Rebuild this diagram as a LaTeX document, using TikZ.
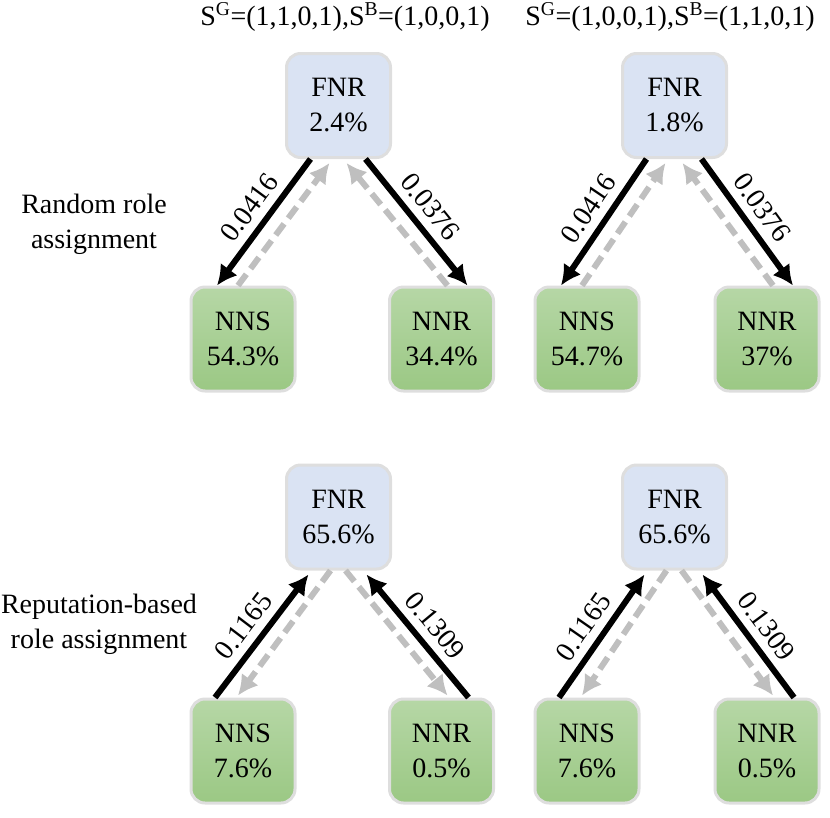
\documentclass[tikz,border=0pt]{standalone}
\usepackage{fontspec}
\setmainfont{LiberationSerif}[Extension=.ttf, UprightFont=*-Regular, BoldFont=*-Bold, ItalicFont=*-Italic, BoldItalicFont=*-BoldItalic]
\usetikzlibrary{arrows.meta}
\definecolor{fnrfill}{RGB}{218,227,243}
\definecolor{gtop}{RGB}{182,215,166}
\definecolor{gbot}{RGB}{155,200,132}
\definecolor{glow}{RGB}{222,222,222}
\definecolor{dashgray}{RGB}{191,191,191}
\begin{document}
\begin{tikzpicture}[x=1pt,y=-1pt,
  box/.style={rounded corners=14pt, minimum width=104pt, minimum height=104pt, inner sep=0pt,
    align=center, font=\fontsize{28}{35}\selectfont, draw=glow, line width=3pt},
  fnrbox/.style={box, fill=fnrfill},
  nbox/.style={box, top color=gtop, bottom color=gbot},
  blk/.style={line width=6pt, -{Latex[length=20pt,width=21pt]}},
  gry/.style={line width=6pt, draw=dashgray, dash pattern=on 14pt off 7pt,
    -{Latex[length=20pt,width=21pt]}},
  lbl/.style={font=\fontsize{28}{30}\selectfont, sloped, pos=0.48, above=8pt, inner sep=0pt},
  txt/.style={font=\fontsize{28}{35}\selectfont, align=center, inner sep=0pt}
]
\useasboundingbox (0,0) rectangle (830,817);

% headers
\node[txt, anchor=base] (hA) at (345,25) {S\textsuperscript{G}=(1,1,0,1),S\textsuperscript{B}=(1,0,0,1)};
\node[txt, anchor=base] (hB) at (670,25) {S\textsuperscript{G}=(1,0,0,1),S\textsuperscript{B}=(1,1,0,1)};

% row labels
\node[txt] (rowA) at (94,224) {Random role\\assignment};
\node[txt] (rowB) at (99,624) {Reputation-based\\role assignment};

% top-left panel
\node[fnrbox] (f1) at (338.5,105.5) {FNR\\2.4\%};
\node[nbox] (s1) at (243,339) {NNS\\54.3\%};
\node[nbox] (r1) at (441.5,339) {NNR\\34.4\%};
% top-right panel
\node[fnrbox] (f2) at (674.5,105.5) {FNR\\1.8\%};
\node[nbox] (s2) at (587,339) {NNS\\54.7\%};
\node[nbox] (r2) at (767,339) {NNR\\37\%};
% bottom-left panel
\node[fnrbox] (f3) at (338.5,517) {FNR\\65.6\%};
\node[nbox] (s3) at (243,751) {NNS\\7.6\%};
\node[nbox] (r3) at (441.5,751) {NNR\\0.5\%};
% bottom-right panel
\node[fnrbox] (f4) at (674.5,517) {FNR\\65.6\%};
\node[nbox] (s4) at (587,751) {NNS\\7.6\%};
\node[nbox] (r4) at (767,751) {NNR\\0.5\%};

% top row connectors
\foreach \f/\s/\r in {f1/s1/r1, f2/s2/r2}{
  \draw[gry] ([xshift=-5pt]\s.north) -- ([xshift=-9pt,yshift=-4pt]\f.south);
  \draw[gry] ([xshift=6pt]\r.north) -- ([xshift=8pt,yshift=-4pt]\f.south);
  \draw[blk] ([xshift=-28pt]\f.south) -- ([xshift=-26pt]\s.north) node[lbl]{0.0416};
  \draw[blk] ([xshift=27pt]\f.south) -- ([xshift=26pt]\r.north) node[lbl]{0.0376};
}
% bottom row connectors
\foreach \f/\s/\r in {f3/s3/r3, f4/s4/r4}{
  \draw[gry] ([xshift=-8pt]\f.south) -- ([xshift=-5pt,yshift=2pt]\s.north);
  \draw[gry] ([xshift=7pt]\f.south) -- ([xshift=6pt,yshift=2pt]\r.north);
  \draw[blk] ([xshift=-28pt]\s.north) -- ([xshift=-30pt,yshift=-4pt]\f.south) node[lbl]{0.1165};
  \draw[blk] ([xshift=27pt]\r.north) -- ([xshift=28pt,yshift=-4pt]\f.south) node[lbl]{0.1309};
}
\end{tikzpicture}
\end{document}
